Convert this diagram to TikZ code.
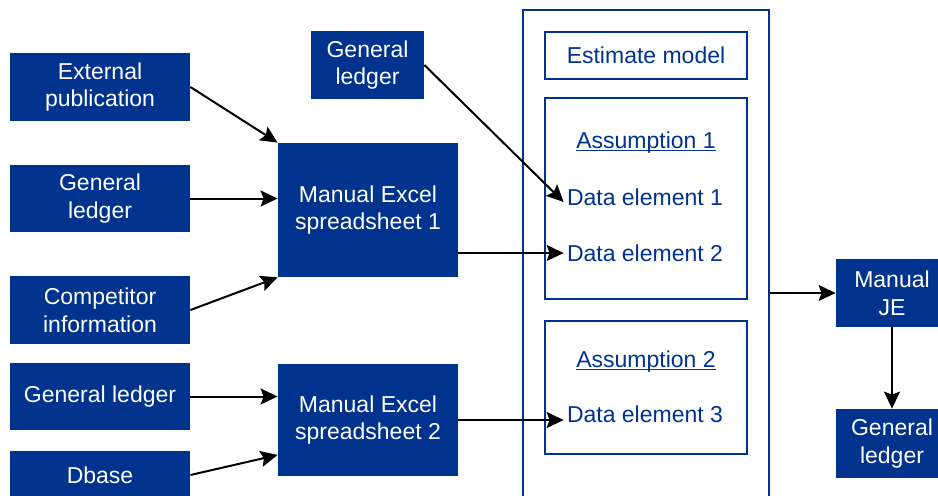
\documentclass[tikz,border=0pt]{standalone}
\usepackage{fontspec}
\setmainfont{Liberation Sans}
\usetikzlibrary{arrows.meta, calc}
\definecolor{kblue}{RGB}{0,51,141}

\begin{document}
\begin{tikzpicture}[
    x=0.5pt, y=-0.5pt,
    font=\fontsize{11.5}{13.8}\selectfont,
    source/.style={fill=kblue, text=white, align=center, inner sep=0pt,
                   minimum width=90pt, minimum height=34pt},
    modelbox/.style={draw=kblue, line width=0.9pt, inner sep=0pt, minimum width=101pt},
    item/.style={text=kblue, inner sep=1.5pt},
    flow/.style={line width=1pt, -{Stealth[length=8.5pt,width=8pt,inset=1.5pt]}}
]

\useasboundingbox (0,0) rectangle (938,495);

% =========================
% SOURCES
% =========================
\node[source] (ext) at (100,87) {External\\publication};
\node[source, minimum height=33.5pt] (gla) at (100,198.5) {General\\ledger};
\node[source] (comp) at (100,310) {Competitor\\information};
\node[source, minimum height=33.5pt] (glb) at (100,396.5) {General ledger};
\node[source, minimum height=24pt] (dbase) at (100,475) {Dbase};

% spreadsheets
\node[source, minimum height=67pt] (ss1) at (368,210) {Manual Excel\\spreadsheet 1};
\node[source, minimum height=56pt] (ss2) at (368,420) {Manual Excel\\spreadsheet 2};
\node[source, minimum width=56.5pt] (glt) at (367.5,65) {General\\ledger};

% =========================
% ESTIMATE MODEL
% =========================
\node[modelbox, minimum width=123pt, minimum height=252.5pt] (model) at (646,262.5) {};
\node[modelbox, minimum height=23.5pt, text=kblue] (est) at (646,55.5) {Estimate model};
\node[modelbox, minimum height=100.5pt] (as1box) at (646,198.5) {};
\node[modelbox, minimum height=66.5pt] (as2box) at (646,387.5) {};

% assumptions and data elements
\node[item, anchor=base] (as1) at (646,148) {\underline{\smash{Assumption 1}}};
\node[item] (de1) at (645,197) {Data element 1};
\node[item] (de2) at (645,253) {Data element 2};
\node[item, anchor=base] (as2) at (646,367) {\underline{\smash{Assumption 2}}};
\node[item] (de3) at (645,414) {Data element 3};

% =========================
% OUTPUT
% =========================
\node[source, minimum width=56pt] (je) at (892,293) {Manual\\JE};
\node[source, minimum width=56pt, minimum height=34.5pt] (glr) at (892,443.5) {General\\ledger};

% =========================
% ARROWS
% =========================
\draw[flow] (ext.east) -- (ss1.north west);
\draw[flow] (gla.east) -- (gla.east -| ss1.west);
\draw[flow] (comp.east) -- (ss1.south west);
\draw[flow] (glb.east) -- (glb.east -| ss2.west);
\draw[flow] (dbase.east) -- ($(ss2.west)!0.62!(ss2.south west)$);

\draw[flow] (glt.east) -- ([yshift=-2.5pt]de1.west);
\draw[flow] (de2.west -| ss1.east) -- (de2.west);
\draw[flow] (ss2.east) -- (ss2.east -| de3.west);

\draw[flow] (je.west -| model.east) -- (je.west);
\draw[flow] (je.south) -- (glr.north);
\end{tikzpicture}
\end{document}
